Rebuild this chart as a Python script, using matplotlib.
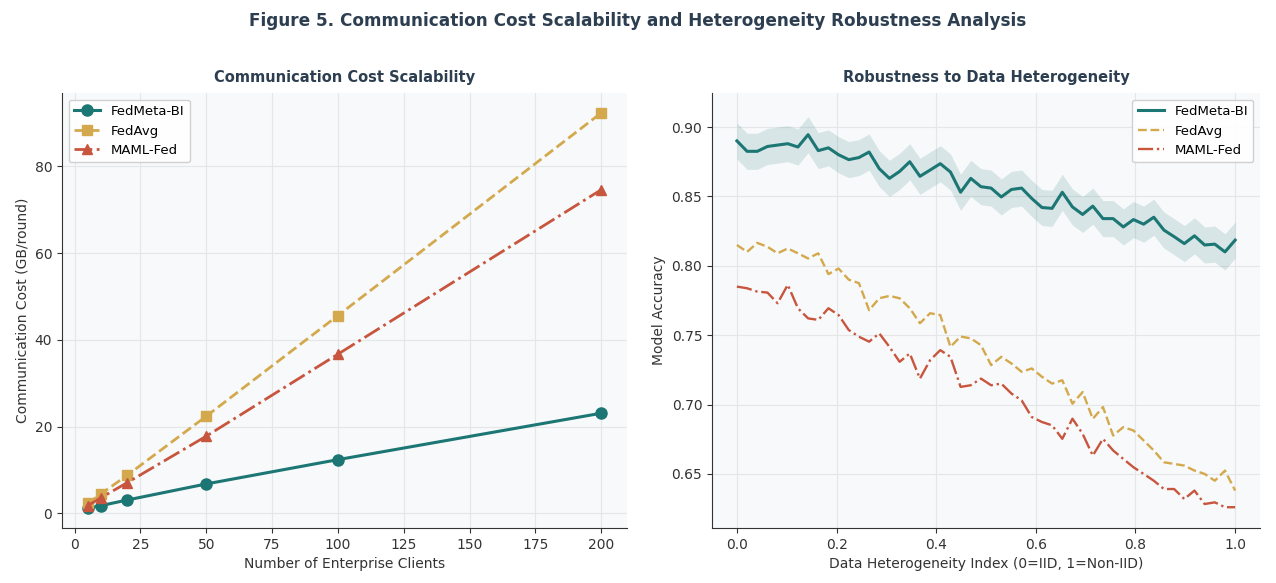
import numpy as np
import matplotlib
matplotlib.use("Agg")
import matplotlib.pyplot as plt

# left panel: communication cost vs number of clients
clients = [5, 10, 20, 50, 100, 200]
cost_fedmeta = [1.2, 1.8, 3.1, 6.8, 12.4, 23.1]
cost_fedavg = [2.3, 4.5, 8.8, 22.4, 45.6, 92.3]
cost_maml = [1.8, 3.6, 7.1, 17.8, 36.7, 74.6]

# right panel: accuracy vs heterogeneity index
het_index = np.linspace(0, 1, 50)
acc_fedmeta = [0.890, 0.8825, 0.8825, 0.886, 0.887, 0.888, 0.8856, 0.8945, 0.883, 0.885,
               0.880, 0.8765, 0.878, 0.882, 0.870, 0.863, 0.868, 0.875, 0.8645, 0.869,
               0.8736, 0.8676, 0.853, 0.863, 0.857, 0.856, 0.8496, 0.855, 0.856, 0.8485,
               0.842, 0.8414, 0.853, 0.8424, 0.837, 0.843, 0.834, 0.834, 0.828, 0.8333,
               0.830, 0.835, 0.8257, 0.821, 0.816, 0.8216, 0.815, 0.8156, 0.810, 0.8185]
acc_fedmeta_std = 0.013
acc_fedavg = [0.815, 0.810, 0.8165, 0.8137, 0.809, 0.8125, 0.809, 0.8053, 0.809, 0.794,
              0.798, 0.790, 0.7875, 0.768, 0.7766, 0.7783, 0.7766, 0.7694, 0.7586, 0.7658,
              0.7645, 0.7416, 0.749, 0.7477, 0.7428, 0.7284, 0.7344, 0.7296, 0.7236, 0.726,
              0.720, 0.7151, 0.7175, 0.7006, 0.709, 0.6897, 0.6982, 0.6777, 0.6837, 0.6813,
              0.6741, 0.6669, 0.6584, 0.6572, 0.656, 0.6524, 0.650, 0.6451, 0.6524, 0.638]
acc_maml = [0.785, 0.7838, 0.7814, 0.7807, 0.773, 0.7863, 0.7694, 0.7621, 0.761, 0.7694,
            0.7645, 0.7537, 0.7489, 0.7453, 0.7513, 0.7416, 0.7308, 0.7368, 0.7187, 0.732,
            0.7392, 0.7344, 0.7127, 0.7139, 0.7187, 0.7139, 0.7151, 0.7079, 0.703, 0.691,
            0.6874, 0.685, 0.6753, 0.6898, 0.6789, 0.6632, 0.6753, 0.6669, 0.6608, 0.6548,
            0.650, 0.6451, 0.6391, 0.6391, 0.6319, 0.638, 0.6283, 0.6295, 0.626, 0.626]

c_meta = "#1b7674"
c_avg = "#d4a94e"
c_maml = "#c8553d"
navy = "#2c3e50"

plt.rcParams['font.family'] = ['DejaVu Sans']
fig = plt.figure(figsize=(12.76, 5.83), dpi=100)
ax1 = fig.add_axes([0.0486, 0.0943, 0.4428, 0.7461])
ax2 = fig.add_axes([0.558, 0.0943, 0.4295, 0.7461])

for ax in (ax1, ax2):
    ax.set_facecolor("#f8f9fa")
    ax.grid(True, color="#e4e6e8", linewidth=0.8)
    ax.set_axisbelow(True)
    ax.spines['top'].set_visible(False)
    ax.spines['right'].set_visible(False)
    ax.spines['left'].set_color("#333333")
    ax.spines['bottom'].set_color("#333333")
    ax.tick_params(labelsize=10, colors="#333333")

ax1.plot(clients, cost_fedmeta, '-o', color=c_meta, lw=2.2, ms=8, label="FedMeta-BI")
ax1.plot(clients, cost_fedavg, '--s', color=c_avg, lw=2.0, ms=7, label="FedAvg")
ax1.plot(clients, cost_maml, '-.^', color=c_maml, lw=2.0, ms=7, label="MAML-Fed")
ax1.set_xlabel("Number of Enterprise Clients", fontsize=10, color="#333333")
ax1.set_ylabel("Communication Cost (GB/round)", fontsize=10, color="#333333")
ax1.set_title("Communication Cost Scalability", fontsize=10.5, fontweight='bold', color=navy, pad=8)
ax1.legend(loc='upper left', fontsize=9.5, facecolor='white', framealpha=0.9)

lo = np.array(acc_fedmeta) - acc_fedmeta_std
hi = np.array(acc_fedmeta) + acc_fedmeta_std
ax2.fill_between(het_index, lo, hi, color=c_meta, alpha=0.15, linewidth=0)
ax2.plot(het_index, acc_fedmeta, '-', color=c_meta, lw=2.2, label="FedMeta-BI")
ax2.plot(het_index, acc_fedavg, '--', color=c_avg, lw=1.7, label="FedAvg")
ax2.plot(het_index, acc_maml, '-.', color=c_maml, lw=1.7, label="MAML-Fed")
ax2.set_ylim(0.611, 0.9245)
ax2.set_xlabel("Data Heterogeneity Index (0=IID, 1=Non-IID)", fontsize=10, color="#333333")
ax2.set_ylabel("Model Accuracy", fontsize=10, color="#333333")
ax2.set_title("Robustness to Data Heterogeneity", fontsize=10.5, fontweight='bold', color=navy, pad=8)
ax2.legend(loc='upper right', fontsize=9.5, facecolor='white', framealpha=0.9)

fig.suptitle("Figure 5. Communication Cost Scalability and Heterogeneity Robustness Analysis",
             fontsize=12.2, fontweight='bold', color=navy, y=0.98)

fig.savefig("out.png", dpi=100)
